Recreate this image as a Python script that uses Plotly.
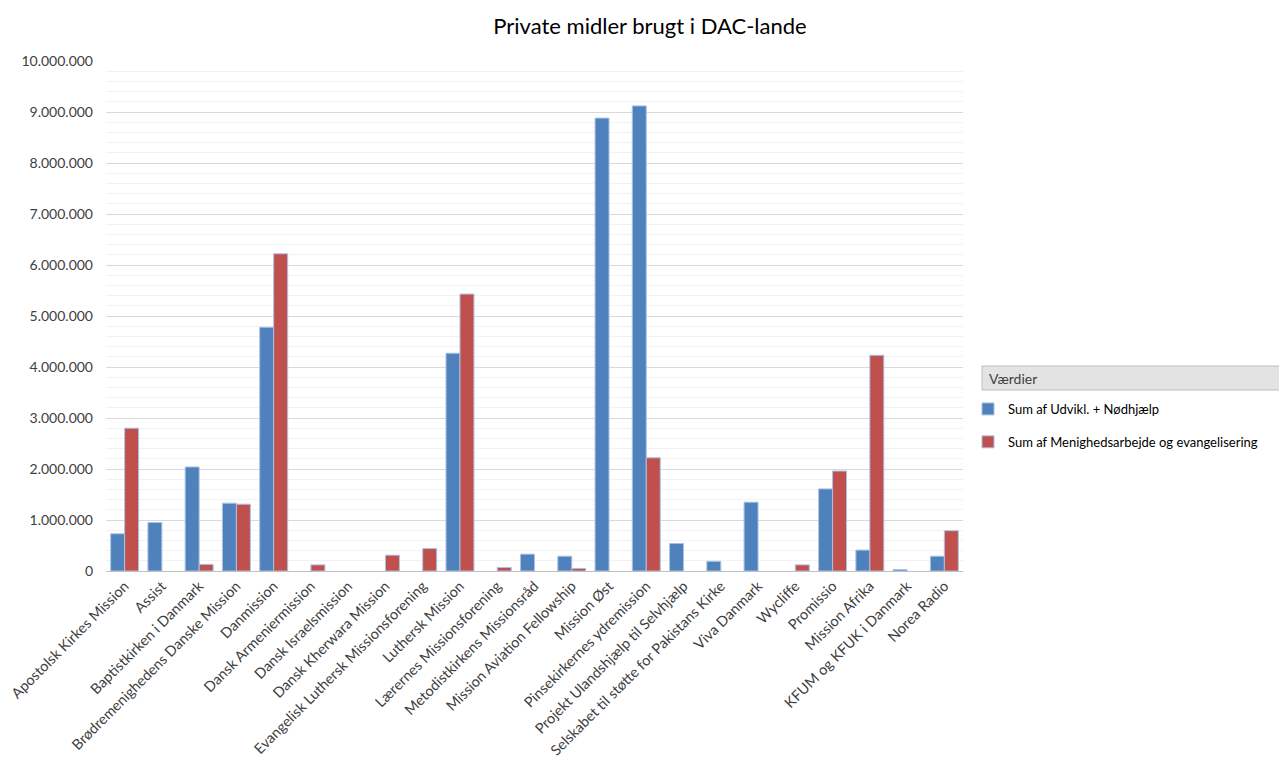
import plotly.graph_objects as go

categories = [
    "Apostolsk Kirkes Mission", "Assist", "Baptistkirken i Danmark",
    "Brødremenighedens Danske Mission", "Danmission", "Dansk Armeniermission",
    "Dansk Israelsmission", "Dansk Kherwara Mission",
    "Evangelisk Luthersk Missionsforening", "Luthersk Mission",
    "Lærernes Missionsforening", "Metodistkirkens Missionsråd",
    "Mission Aviation Fellowship", "Mission Øst", "Pinsekirkernes ydremission",
    "Projekt Ulandshjælp til Selvhjælp", "Selskabet til støtte for Pakistans Kirke",
    "Viva Danmark", "Wycliffe", "Promissio", "Mission Afrika",
    "KFUM og KFUK i Danmark", "Norea Radio",
]

# None = blank cell in the pivot table (no bar drawn)
udvikl_nodhjaelp = [
    730000, 950000, 2040000, 1330000, 4780000, None, None, None, None, 4270000,
    None, 330000, 290000, 8880000, 9120000, 540000, 190000, 1350000, None,
    1610000, 410000, 30000, 290000,
]

menighedsarbejde = [
    2800000, None, 130000, 1310000, 6220000, 120000, None, 310000, 440000, 5430000,
    70000, None, 50000, None, 2220000, None, None, None, 120000,
    1960000, 4230000, None, 790000,
]

series_names = ["Sum af Udvikl. + Nødhjælp", "Sum af Menighedsarbejde og evangelisering"]
y_ticks = [0, 1000000, 2000000, 3000000, 4000000, 5000000, 6000000, 7000000, 8000000, 9000000, 10000000]

FONT = "Lato, 'Open Sans', sans-serif"
outline = dict(color="rgba(170,195,228,1)", width=1)

# page body has an 8px margin; compensate
OFF = 8
L, T = 106 - OFF, 61 - OFF
PW, PH = 857, 510
W, H = 1287, 760
B = H - T - PH
R = W - L - PW


def px_x(p):
    return (p - OFF - L) / PW


def px_y(p):
    return (T + PH - (p - OFF)) / PH


fig = go.Figure()
fig.add_trace(go.Bar(
    x=categories, y=udvikl_nodhjaelp, name=series_names[0],
    marker=dict(color="#4F81BD", line=outline), legendgroup="a",
))
fig.add_trace(go.Bar(
    x=categories, y=menighedsarbejde, name=series_names[1],
    marker=dict(color="#C0504D", line=outline), legendgroup="b",
))

fig.update_layout(
    width=W, height=H,
    paper_bgcolor="white", plot_bgcolor="white",
    separators=",.",
    font=dict(family=FONT, color="#404040", size=12),
    title=dict(text="Private midler brugt i DAC-lande", xref="paper", x=px_x(650), xanchor="center",
               yref="container", y=1 - (26 - OFF) / H, yanchor="middle",
               font=dict(size=22, color="#000000", family=FONT)),
    margin=dict(l=L, r=R, t=T, b=B, autoexpand=False),
    barmode="group", bargap=0.25, bargroupgap=0,
    showlegend=True,
    legend=dict(x=px_x(968), xanchor="left", y=px_y(394), yanchor="top",
                traceorder="grouped", tracegroupgap=13, itemwidth=30,
                font=dict(size=13, color="#000000", family=FONT),
                bgcolor="rgba(0,0,0,0)"),
    xaxis=dict(tickangle=-45, showline=True, linecolor="#BFBFBF", linewidth=1,
               ticks="", automargin=False, tickfont=dict(size=14.5, color="#404040")),
    yaxis=dict(range=[0, 10000000], tickvals=y_ticks, tickformat=",d",
               showgrid=True, gridcolor="#D9D9D9", gridwidth=1, zeroline=False,
               ticks="", ticklabelstandoff=12, automargin=False,
               minor=dict(dtick=200000, showgrid=True, gridcolor="#F2F2F2", gridwidth=1),
               tickfont=dict(size=14, color="#404040")),
    shapes=[dict(type="rect", xref="paper", yref="paper",
                 x0=px_x(982), x1=px_x(1295),
                 y0=px_y(390), y1=px_y(366),
                 fillcolor="#E3E3E3", line=dict(color="#BDBDBD", width=1))],
    annotations=[dict(text="Værdier", xref="paper", yref="paper",
                      x=px_x(987), y=px_y(378),
                      xanchor="left", yanchor="middle", showarrow=False,
                      font=dict(size=14, color="#404040", family=FONT))],
)

fig.write_html("out.html")
